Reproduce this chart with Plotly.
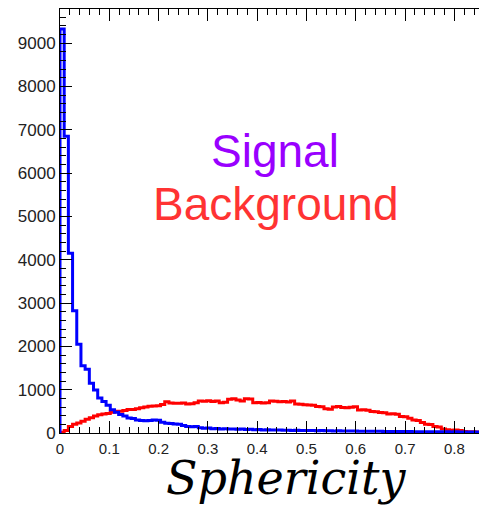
import plotly.graph_objects as go

# Histogram binning: 100 equal bins over [0, 0.85]
n_bins = 100
x_min, x_max = 0.0, 0.85

# Signal counts per bin
signal_counts = [
    9330, 6850, 4150, 2820, 2050, 1550, 1470, 1150, 990, 810,
    730, 640, 535, 480, 430, 395, 345, 335, 300, 290,
    285, 290, 300, 295, 250, 225, 220, 205, 200, 175,
    150, 145, 150, 120, 110, 115, 100, 105, 95, 100,
    90, 95, 85, 90, 80, 85, 75, 80, 70, 75,
    70, 68, 72, 65, 66, 60, 62, 58, 60, 55,
    57, 52, 55, 50, 52, 48, 50, 45, 47, 44,
    45, 42, 43, 40, 41, 38, 40, 36, 37, 35,
    35, 33, 34, 32, 30, 31, 29, 30, 28, 27,
    28, 26, 27, 25, 26, 24, 25, 23, 24, 22,
]

# Background counts per bin
background_counts = [
    15, 60, 150, 200, 230, 270, 320, 350, 390, 420,
    440, 450, 480, 505, 500, 520, 540, 545, 560, 585,
    600, 615, 625, 630, 660, 720, 690, 685, 685, 690,
    670, 675, 700, 740, 735, 745, 730, 740, 700, 710,
    780, 790, 760, 740, 790, 785, 700, 705, 690, 700,
    740, 735, 720, 725, 715, 740, 670, 665, 650, 645,
    640, 610, 605, 560, 550, 600, 610, 590, 585, 595,
    605, 530, 535, 525, 495, 490, 475, 470, 440, 445,
    435, 380, 375, 340, 300, 290, 240, 200, 195, 150,
    140, 95, 75, 65, 70, 60, 35, 30, 30, 25,
]

x_ticks = [0, 0.1, 0.2, 0.3, 0.4, 0.5, 0.6, 0.7, 0.8]
x_tick_labels = ["0", "0.1", "0.2", "0.3", "0.4", "0.5", "0.6", "0.7", "0.8"]
y_ticks = [0, 1000, 2000, 3000, 4000, 5000, 6000, 7000, 8000, 9000]
y_tick_labels = [str(v) for v in y_ticks]

bin_width = (x_max - x_min) / n_bins
edges = [x_min + i * bin_width for i in range(n_bins + 1)]


def step_outline(counts):
    # ROOT-style outline: rise from zero at the left edge, then one step per bin
    xs = [edges[0]] + edges
    ys = [0] + list(counts) + [counts[-1]]
    return xs, ys


fig = go.Figure()
for counts, color in [(background_counts, "#ff0000"), (signal_counts, "#0000ff")]:
    xs, ys = step_outline(counts)
    fig.add_trace(go.Scatter(
        x=xs, y=ys, mode="lines", line=dict(color=color, width=3, shape="hv"),
        hoverinfo="skip", showlegend=False,
    ))

W, H = 479, 505
L, R, T, B = 60, 0, 9, 72
pw, ph = W - L - R, H - T - B


def px_x(p):
    return (p - L) / pw


def px_y(p):
    return (H - B - p) / ph


fig.update_layout(
    width=W, height=H,
    margin=dict(l=L, r=R, t=T, b=B, pad=0),
    paper_bgcolor="white", plot_bgcolor="white",
    font=dict(family="Liberation Sans, Arial, sans-serif", color="#222222"),
    xaxis=dict(
        range=[x_min, x_max], tickvals=x_ticks, ticktext=x_tick_labels,
        ticks="inside", ticklen=12, tickwidth=1, tickcolor="black",
        showline=True, linecolor="black", linewidth=1, mirror="allticks",
        showgrid=False, zeroline=False, tickfont=dict(size=15),
        ticklabelstandoff=2,
        minor=dict(dtick=0.02, tick0=0, ticks="inside", ticklen=6, tickcolor="black", showgrid=False),
    ),
    yaxis=dict(
        range=[0, 9790], tickvals=y_ticks, ticktext=y_tick_labels,
        ticks="inside", ticklen=12, tickwidth=1, tickcolor="black",
        showline=True, linecolor="black", linewidth=1, mirror=False,
        showgrid=False, zeroline=False, tickfont=dict(size=17),
        minor=dict(dtick=200, tick0=0, ticks="inside", ticklen=6, tickcolor="black", showgrid=False),
    ),
    annotations=[
        dict(text="Signal", x=px_x(274.5), y=px_y(151), xref="paper", yref="paper",
             xanchor="center", yanchor="middle", showarrow=False,
             font=dict(size=46, color="#9900ff", family="Liberation Sans, Arial, sans-serif")),
        dict(text="Background", x=px_x(276), y=px_y(204), xref="paper", yref="paper",
             xanchor="center", yanchor="middle", showarrow=False,
             font=dict(size=46, color="#ff3333", family="Liberation Sans, Arial, sans-serif")),
        dict(text="<i>Sphericity</i>", x=px_x(286), y=px_y(478), xref="paper", yref="paper",
             xanchor="center", yanchor="middle", showarrow=False,
             font=dict(size=46, color="black", family="DejaVu Serif, serif")),
    ],
)

fig.write_html("out.html")
